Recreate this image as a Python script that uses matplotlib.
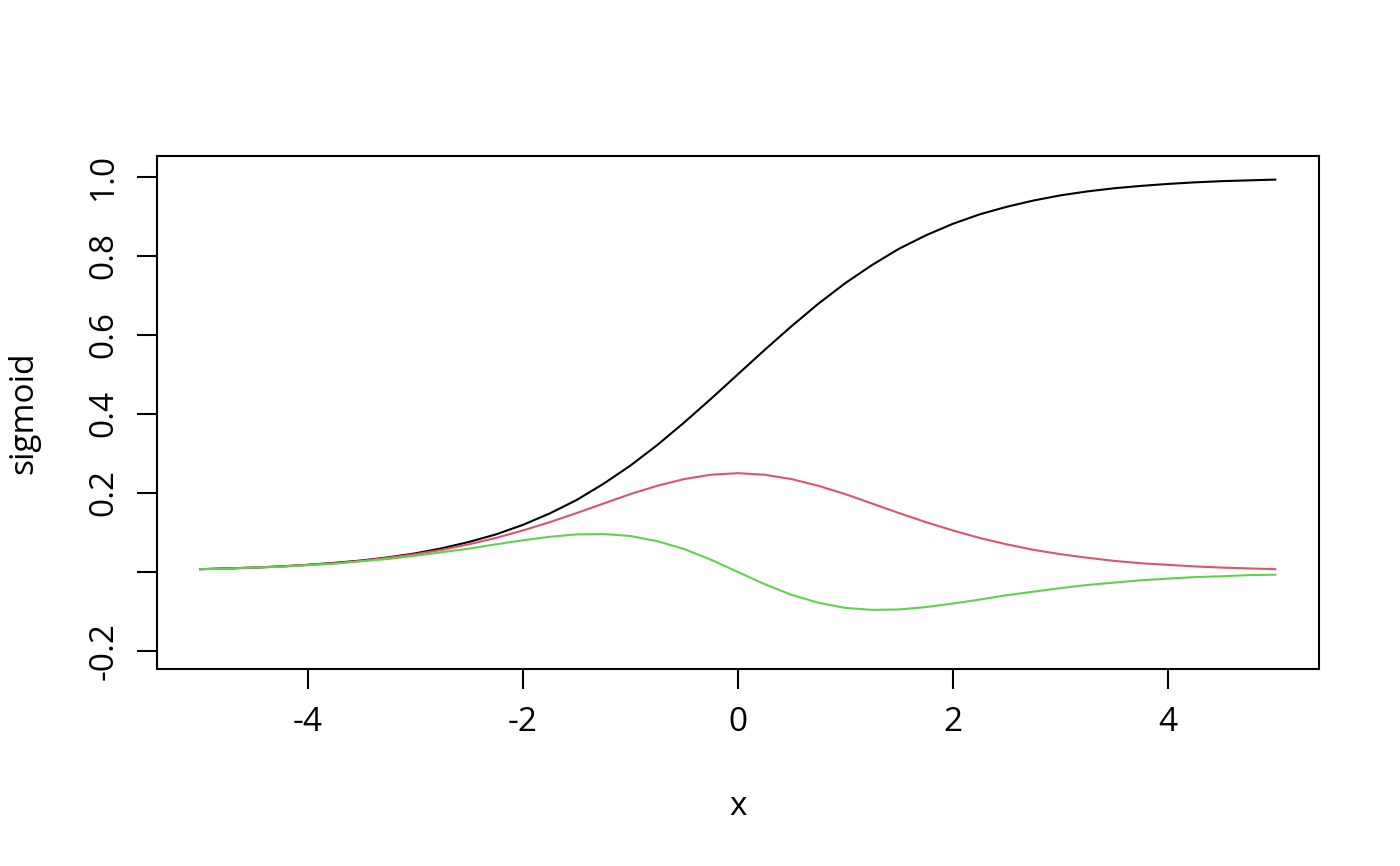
import numpy as np
import matplotlib.pyplot as plt

plt.rcParams['font.family'] = ['Open Sans', 'DejaVu Sans']

x = [-5.0, -4.75, -4.5, -4.25, -4.0, -3.75, -3.5, -3.25, -3.0, -2.75, -2.5,
     -2.25, -2.0, -1.75, -1.5, -1.25, -1.0, -0.75, -0.5, -0.25, 0.0,
     0.25, 0.5, 0.75, 1.0, 1.25, 1.5, 1.75, 2.0, 2.25, 2.5,
     2.75, 3.0, 3.25, 3.5, 3.75, 4.0, 4.25, 4.5, 4.75, 5.0]
sigmoid = [0.007, 0.009, 0.011, 0.014, 0.018, 0.023, 0.029, 0.037, 0.047, 0.060, 0.076,
           0.095, 0.119, 0.148, 0.182, 0.223, 0.269, 0.321, 0.378, 0.438, 0.500,
           0.562, 0.622, 0.679, 0.731, 0.777, 0.818, 0.852, 0.881, 0.905, 0.924,
           0.940, 0.953, 0.963, 0.971, 0.977, 0.982, 0.986, 0.989, 0.991, 0.993]
deriv1 = [0.007, 0.009, 0.011, 0.014, 0.018, 0.022, 0.028, 0.036, 0.045, 0.056, 0.070,
          0.086, 0.105, 0.126, 0.149, 0.173, 0.197, 0.218, 0.235, 0.246, 0.250,
          0.246, 0.235, 0.218, 0.197, 0.173, 0.149, 0.126, 0.105, 0.086, 0.070,
          0.056, 0.045, 0.036, 0.028, 0.022, 0.018, 0.014, 0.011, 0.009, 0.007]
deriv2 = [0.007, 0.008, 0.011, 0.013, 0.017, 0.021, 0.027, 0.033, 0.041, 0.050, 0.059,
          0.070, 0.080, 0.089, 0.095, 0.096, 0.091, 0.078, 0.058, 0.031, 0.000,
          -0.031, -0.058, -0.078, -0.091, -0.096, -0.095, -0.089, -0.080, -0.070, -0.059,
          -0.050, -0.041, -0.033, -0.027, -0.021, -0.017, -0.013, -0.011, -0.008, -0.007]

xticks = [-4, -2, 0, 2, 4]
yticks = [-0.2, 0.0, 0.2, 0.4, 0.6, 0.8, 1.0]
ylabels = ['-0.2', '', '0.2', '0.4', '0.6', '0.8', '1.0']

fig = plt.figure(figsize=(7, 4.33), dpi=200)
ax = fig.add_axes([0.112, 0.2275, 0.830, 0.5925])

ax.plot(x, sigmoid, color='black', lw=0.75)
ax.plot(x, deriv1, color='#DF536B', lw=0.75)
ax.plot(x, deriv2, color='#61D04F', lw=0.75)

ax.set_xlim(-5.405, 5.405)
ax.set_ylim(-0.2456, 1.053)
ax.set_xticks(xticks)
ax.set_xticklabels([str(t) for t in xticks])
ax.set_yticks(yticks)
ax.set_yticklabels(ylabels, rotation=90, va='center')
ax.tick_params(direction='out', length=7.2, width=0.75, labelsize=12, pad=6)
for s in ax.spines.values():
    s.set_linewidth(0.75)

ax.set_xlabel('x', fontsize=12, labelpad=18.5)
ax.set_ylabel('sigmoid', fontsize=12, labelpad=17)

fig.savefig('out.png', dpi=200)
